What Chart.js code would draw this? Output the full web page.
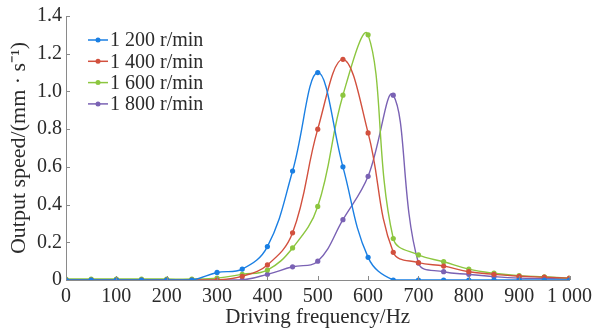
<!DOCTYPE html>
<html>
<head>
<meta charset="utf-8">
<script src="https://cdn.jsdelivr.net/npm/chart.js@4/dist/chart.umd.min.js"></script>
<style>
  html, body { margin: 0; padding: 0; background: #fff; }
  #wrap { width: 597px; height: 328px; }
</style>
</head>
<body>
<div id="wrap"><canvas id="c"></canvas></div>
<script>
// frequência (Hz)
const freq = [0, 50, 100, 150, 200, 250, 300, 350, 400, 450, 500, 550, 600, 650, 700, 750, 800, 850, 900, 950, 1000];

const v1200 = [0, 0, 0, 0, 0, 0, 0.04, 0.058, 0.177, 0.578, 1.10, 0.60, 0.12, 0, 0, 0, 0, 0, 0, 0, 0];
const v1400 = [0, 0, 0, 0, 0, 0, 0, 0.02, 0.08, 0.25, 0.80, 1.17, 0.78, 0.147, 0.092, 0.074, 0.044, 0.03, 0.02, 0.015, 0.01];
const v1600 = [0.005, 0.005, 0.005, 0.005, 0.005, 0.005, 0.01, 0.03, 0.053, 0.17, 0.39, 0.98, 1.30, 0.22, 0.133, 0.097, 0.058, 0.036, 0.023, 0.017, 0.01];
const v1800 = [0, 0, 0, 0, 0, 0, 0, 0, 0.03, 0.07, 0.10, 0.32, 0.55, 0.98, 0.09, 0.044, 0.03, 0.018, 0.01, 0.008, 0.005];

const seriesNames = ['1 200 r/min', '1 400 r/min', '1 600 r/min', '1 800 r/min'];
const seriesColors = ['#1a7fe3', '#d2503e', '#8cc63f', '#7a62b4'];
const seriesValues = [v1200, v1400, v1600, v1800];

const yTicks = [0, 0.2, 0.4, 0.6, 0.8, 1.0, 1.2, 1.4];
const xTicks = [0, 100, 200, 300, 400, 500, 600, 700, 800, 900, 1000];

const FONT = '"Liberation Serif", "Times New Roman", serif';
const AXIS = '#8a8a8a';
const TXT = '#2a2a2a';

// ticks voltados para dentro + legenda dentro da área
const extras = {
  id: 'extras',
  afterDraw(chart) {
    const ctx = chart.ctx, a = chart.chartArea;
    const xs = chart.scales.x, ys = chart.scales.y;
    ctx.save();
    ctx.strokeStyle = AXIS; ctx.lineWidth = 1;
    ctx.beginPath();
    yTicks.forEach(t => { const p = Math.round(ys.getPixelForValue(t)) + 0.5; ctx.moveTo(a.left, p); ctx.lineTo(a.left + 4, p); });
    xTicks.forEach(t => { const p = Math.round(xs.getPixelForValue(t)) + 0.5; ctx.moveTo(p, a.bottom); ctx.lineTo(p, a.bottom - 4); });
    ctx.stroke();

    // legenda
    let lx = 88, ly = 40;
    ctx.font = '20px ' + FONT;
    ctx.textBaseline = 'middle';
    chart.data.datasets.forEach((ds, i) => {
      const y = ly + i * 21.3;
      ctx.strokeStyle = ds.borderColor; ctx.lineWidth = 1.5;
      ctx.beginPath(); ctx.moveTo(lx, y); ctx.lineTo(lx + 20, y); ctx.stroke();
      ctx.fillStyle = ds.borderColor;
      ctx.beginPath(); ctx.arc(lx + 10, y, 2.5, 0, Math.PI * 2); ctx.fill();
      ctx.fillStyle = TXT;
      ctx.fillText(ds.label, lx + 22, y + 1);
    });
    ctx.restore();
  }
};

new Chart(document.getElementById('c'), {
  type: 'line',
  data: {
    datasets: seriesValues.map((vals, i) => ({
      label: seriesNames[i],
      data: freq.map((f, j) => ({ x: f, y: vals[j] })),
      borderColor: seriesColors[i],
      backgroundColor: seriesColors[i],
      borderWidth: 1.4,
      pointRadius: 2.6,
      pointBorderWidth: 0,
      tension: 0.4,
      fill: false
    }))
  },
  options: {
    responsive: true, maintainAspectRatio: false,
    animation: false,
    layout: { padding: { top: 16, right: 27, left: 6, bottom: 0 } },
    plugins: { legend: { display: false }, tooltip: { enabled: false } },
    scales: {
      x: {
        type: 'linear', min: 0, max: 1000,
        afterBuildTicks: s => { s.ticks = xTicks.map(v => ({ value: v })); },
        afterFit: s => { s.height = 48; },
        grid: { display: false, drawTicks: false },
        border: { color: AXIS, width: 1 },
        ticks: {
          padding: 5, color: TXT, font: { family: FONT, size: 20 }, maxRotation: 0,
          callback: v => v === 1000 ? '1 000' : String(v)
        },
        title: { display: true, text: 'Driving frequency/Hz', color: TXT, font: { family: FONT, size: 21, lineHeight: 1.0 }, padding: { top: 0, bottom: 0 } }
      },
      y: {
        min: 0, max: 1.4,
        afterBuildTicks: s => { s.ticks = yTicks.map(v => ({ value: v })); },
        afterFit: s => { s.width = 60; },
        grid: { display: false, drawTicks: false },
        border: { color: AXIS, width: 1 },
        ticks: {
          padding: 4, color: TXT, font: { family: FONT, size: 20 },
          callback: v => v === 0 ? '0' : v.toFixed(1)
        },
        title: { display: true, text: 'Output speed/(mm \u00B7 s\u207B\u00B9)', color: TXT, font: { family: FONT, size: 22 }, padding: { top: 0, bottom: 0 } }
      }
    }
  },
  plugins: [extras]
});
</script>
</body>
</html>
